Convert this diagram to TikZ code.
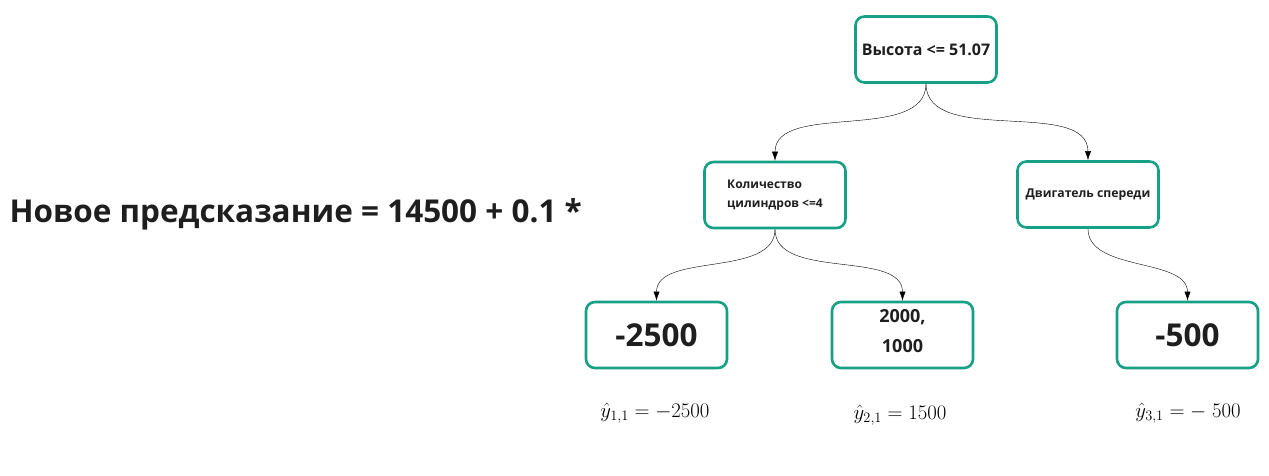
\documentclass[tikz,border=0pt]{standalone}
\usepackage{amsmath,amssymb}
\usepackage[no-math]{fontspec}
\setmainfont{Open Sans}
\usepackage{xcolor}
\usepackage{tikz}
\usetikzlibrary{arrows.meta}
\definecolor{teal1}{RGB}{22,160,133}
\definecolor{ink}{RGB}{30,30,30}

\begin{document}
\begin{tikzpicture}[x=1pt,y=-1pt,
  treebox/.style={draw=teal1, text=ink, line width=2.6pt, rounded corners=9pt, minimum width=141, minimum height=66, inner sep=4, align=center, font=\bfseries},
  leafval/.style={font=\fontsize{31.5}{34}\selectfont\bfseries},
  yhat/.style={font=\fontsize{21}{24}\selectfont}]
\useasboundingbox (0,0) rectangle (1269,476);
%tree nodes
\node[treebox, font=\fontsize{16}{19}\selectfont\bfseries] (v1) at (926,49.5) {Высота <= 51.07};
\node[treebox, font=\fontsize{12}{18.5}\selectfont\bfseries, align=left] (v2) at (775,195) {Количество\\цилиндров <=4};
\node[treebox, font=\fontsize{12.2}{14}\selectfont\bfseries] (v3) at (1088,194.5) {Двигатель спереди};
\node[treebox, leafval] (v4) at (656.5,335) {-2500};
\node[treebox, font=\fontsize{18}{30}\selectfont\bfseries] (v5) at (902.5,335) {\raisebox{0pt}[0pt][0pt]{\parbox{60pt}{\centering 2000,\\1000}}};
\node[treebox, leafval] (v6) at (1187.5,335) {-500};
%formula
\node[text=ink, font=\fontsize{31.5}{36}\selectfont\bfseries, anchor=west] (f) at (6,214) {Новое предсказание = 14500 + 0.1 *};
\node[yhat] (y1) at (655,413) {$\hat{y}_{1,1} = -2500$};
\node[yhat] (y2) at (900,415) {$\hat{y}_{2,1} = 1500$};
\node[yhat] (y3) at (1188,413) {$\hat{y}_{3,1} = -\;500$};
\draw [-{Latex[length=9pt,width=6pt]}] (v1.south) to[out=-90,in=90,looseness=0.9] (v2.north);
\draw [-{Latex[length=9pt,width=6pt]}] (v1.south) to[out=-90,in=90,looseness=0.9] (v3.north);
\draw [-{Latex[length=9pt,width=6pt]}] (v2.south) to[out=-90,in=90,looseness=0.9] (v4.north);
\draw [-{Latex[length=9pt,width=6pt]}] (v2.south) to[out=-90,in=90,looseness=0.9] (v5.north);
\draw [-{Latex[length=9pt,width=6pt]}] (v3.south) to[out=-90,in=90,looseness=0.9] (v6.north);
\end{tikzpicture}
\end{document}
